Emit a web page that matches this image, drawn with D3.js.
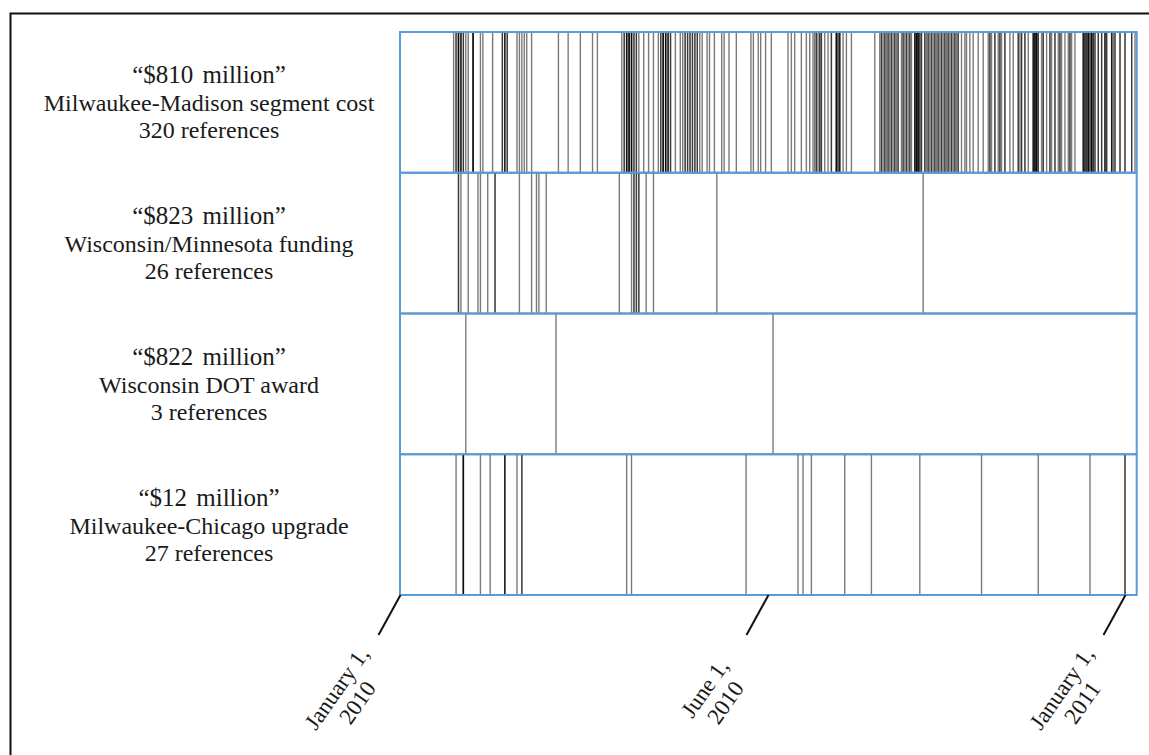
<!DOCTYPE html>
<html>
<head>
<meta charset="utf-8">
<script src="https://cdnjs.cloudflare.com/ajax/libs/d3/7.8.5/d3.min.js"></script>
<style>
  body { margin: 0; background: #fff; }
  text { font-family: "Liberation Serif", "Times New Roman", serif; fill: #1a1a1a; }
</style>
</head>
<body>
<div id="chart-area"></div>
<script>

// one entry per reference: days after January 1, 2010
var refs810 = [
  22, 23,23, 24,24,24,24, 25,25,25, 26,26, 27, 28, 30,30,30,30, 33, 34, 38, 42,42, 43,43,43, 44,44,
  48, 49, 50, 51, 52, 54, 65, 69, 74, 79, 81,
  91, 92,92, 93,93,93,93, 94,94,94,94, 95,95,95,95, 96,96, 97,97, 98, 100, 102, 104, 106, 107,107,
  108,108,108,108, 109,109,109,109, 110,110,110, 111,111, 113, 115,
  116, 117,117, 118,118, 119,119, 120,120, 121,121, 122,122, 123, 124, 126, 127, 129, 132, 133, 135,
  138, 144, 145, 147, 148, 150,
  153, 163, 165, 167, 171, 174, 176, 178, 179, 180,180, 181, 182,182, 183,183, 185, 187, 189,189,
  192,192,192,192, 193,193, 194,194,194, 196, 198, 201,
  215,
  218, 219,219, 220, 221,221, 222, 223,223, 224, 225,225, 226, 227,227, 228, 229,229,
  231, 232,232, 233, 234,234, 235, 236,236, 237,
  239,239,239, 240,240,240,240, 241,241,241,241, 242,242, 243,243,
  245,245, 246, 247,247, 248, 249,249, 250, 251,251, 252, 253,253, 254, 255,255, 256, 257,257, 258,
  259,259, 260, 261,261, 262, 263,263, 264, 265,265, 267,
  269, 270, 272, 274, 277, 280,
  283, 284,284, 285, 287,287, 289, 290,290, 291, 293,293,
  296, 298, 301,301, 302, 303,303, 305,305, 307,
  310,310,310, 311,311,311,311, 312,312,312,312, 313,313,
  315, 316,316, 318, 320,320, 321, 323,323,
  325, 326,326, 327, 329,
  331, 332,332, 333, 335,
  340,340,340, 341,341,341, 342,342, 343,343,343,343, 344,344, 345,345,345,345, 346,346, 347,347,
  349,349, 351,351,
  353,353,353, 354,354, 357,357,357, 358, 359,359,
  362,362, 365,365, 369,369, 371
]
var refs823 = [24,24, 25, 28, 32, 33, 36, 39,39, 49, 54, 56, 57, 60, 90, 95, 96,96, 97,97, 98,98, 101, 104, 130, 244]
var refs822 = [27, 64, 154]
var refs12 = [23, 26,26,26,26, 33, 37, 43,43,43, 48, 50,50, 93, 95, 142, 169, 172, 177, 197, 213, 242, 279, 313, 344, 365,365]

var amounts = ["\u201c$810 million\u201d", "\u201c$823 million\u201d", "\u201c$822 million\u201d", "\u201c$12 million\u201d"]
var descriptions = ["Milwaukee-Madison segment cost", "Wisconsin/Minnesota funding", "Wisconsin DOT award", "Milwaukee-Chicago upgrade"]
var refLabels = ["320 references", "26 references", "3 references", "27 references"]

var tickDates = ["2010-01-01", "2010-06-01", "2011-01-01"]
var tickLine1 = ["January 1,", "June 1,", "January 1,"]
var tickLine2 = ["2010", "2010", "2011"]
var startDate = "2010-01-01", endDate = "2011-01-08"

var width = 1149, height = 755
var parse = d3.timeParse("%Y-%m-%d")
var start = parse(startDate)

var rows = amounts.map(function(a, i) {
  return { amount: a, desc: descriptions[i], label: refLabels[i], refs: [refs810, refs823, refs822, refs12][i] }
})

var svg = d3.select("#chart-area").append("svg")
    .attr("width", width)
    .attr("height", height)

// frame round the figure (only top and left show)
svg.append("path")
  .attr("d", "M10.5," + height + " V13.5 H" + width)
  .attr("fill", "none")
  .attr("stroke", "#111")
  .attr("stroke-width", 2)

// the axis dates are not evenly spaced in the picture, so the scale is piecewise
var x = d3.scaleTime()
  .domain(tickDates.map(parse))
  .range([400, 768, 1125])

var y = d3.scaleBand()
  .domain(amounts)
  .range([32, 595])

var rowG = svg.selectAll(".row")
  .data(rows)
  .enter().append("g")
    .attr("class", "row")
    .attr("transform", function(d) { return "translate(0," + y(d.amount) + ")" })

rowG.selectAll("line")
  .data(function(d) { return d.refs })
  .enter().append("line")
    .attr("x1", function(d) { return x(d3.timeDay.offset(start, d)) })
    .attr("x2", function(d) { return x(d3.timeDay.offset(start, d)) })
    .attr("y1", 0)
    .attr("y2", y.bandwidth())
    .attr("stroke", "#000")
    .attr("stroke-opacity", 0.52)
    .attr("stroke-width", 1.4)

rowG.append("rect")
  .attr("x", x(start))
  .attr("width", x(parse(endDate)) - x(start))
  .attr("height", y.bandwidth())
  .attr("fill", "none")
  .attr("stroke", "#5b9bd5")
  .attr("stroke-width", 2)

// row labels
var label = rowG.append("text")
  .attr("text-anchor", "middle")
  .attr("transform", "translate(209," + (y.bandwidth() / 2) + ")")

label.append("tspan")
  .attr("x", 0).attr("y", -19)
  .attr("font-size", "25px")
  .attr("word-spacing", "3px")
  .text(function(d) { return d.amount })
label.append("tspan")
  .attr("x", 0).attr("y", 9)
  .attr("font-size", "24px")
  .text(function(d) { return d.desc })
label.append("tspan")
  .attr("x", 0).attr("y", 36)
  .attr("font-size", "24px")
  .text(function(d) { return d.label })

// date axis with slanted ticks
var xAxisCall = d3.axisBottom(x)
  .tickValues(tickDates.map(parse))
  .tickSize(0)
  .tickFormat("")

var xAxisGroup = svg.append("g")
  .attr("class", "x axis")
  .attr("transform", "translate(0,595)")
  .call(xAxisCall)

xAxisGroup.select(".domain").remove()
xAxisGroup.selectAll(".tick text").remove()
xAxisGroup.selectAll(".tick line")
  .attr("x2", -22)
  .attr("y2", 40)
  .attr("stroke", "#111")
  .attr("stroke-width", 2)

var tickLabel = xAxisGroup.selectAll(".tick")
  .append("text")
    .attr("text-anchor", "middle")
    .attr("font-size", "23px")
    .attr("transform", "translate(-64,93) rotate(-55)")

tickLabel.append("tspan")
  .attr("x", 0).attr("y", 0).attr("dy", "0.35em")
  .text(function(d, i) { return tickLine1[i] })
tickLabel.append("tspan")
  .attr("x", 0).attr("y", 25).attr("dy", "0.35em")
  .text(function(d, i) { return tickLine2[i] })

</script>
</body>
</html>
